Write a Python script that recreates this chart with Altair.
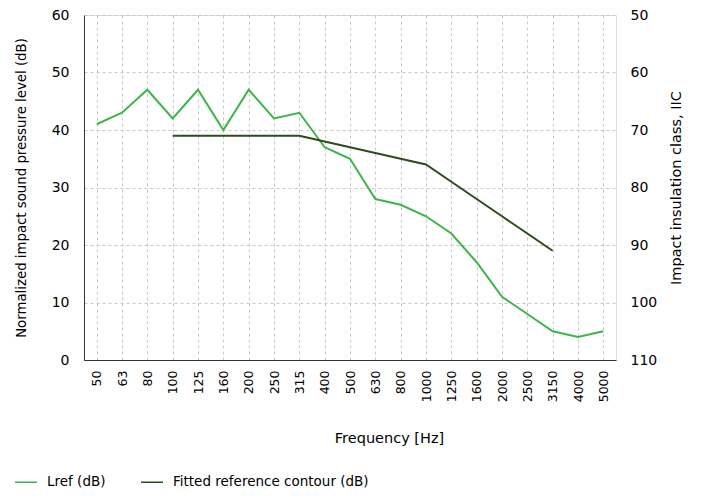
import altair as alt
import pandas as pd

freqs = ["50", "63", "80", "100", "125", "160", "200", "250", "315", "400",
         "500", "630", "800", "1000", "1250", "1600", "2000", "2500", "3150",
         "4000", "5000"]
lref = [41, 43, 47, 42, 47, 40, 47, 42, 43, 37, 35, 28, 27, 25, 22, 17, 11, 8, 5, 4, 5]
contour_freqs = ["100", "125", "160", "200", "250", "315", "400", "500", "630",
                 "800", "1000", "1250", "1600", "2000", "2500", "3150"]
contour = [39, 39, 39, 39, 39, 39, 38, 37, 36, 35, 34, 31, 28, 25, 22, 19]

s1 = "Lref (dB)"
s2 = "Fitted reference contour (dB)"
rows = [{"freq": f, "value": v, "series": s1} for f, v in zip(freqs, lref)]
rows += [{"freq": f, "value": v, "series": s2} for f, v in zip(contour_freqs, contour)]
df = pd.DataFrame(rows)

FONT = "DejaVu Sans"
TXT = "#333333"
GRID = "#c8c8c8"
W, H = 532, 345

x_enc = alt.X("freq:N", sort=freqs, scale=alt.Scale(domain=freqs, paddingInner=0, paddingOuter=0),
              axis=alt.Axis(title="Frequency [Hz]", labelAngle=-90, grid=True, gridDash=[3, 3],
                            gridColor=GRID, ticks=False, labelPadding=10, domainColor=TXT,
                            labelFont=FONT, titleFont=FONT,
                            labelFontSize=12.5, titleFontSize=14.5,
                            titleX=305, titleY=78, titleBaseline="middle",
                            titleFontWeight="normal"))

lines = alt.Chart(df).mark_line(strokeWidth=2).encode(
    x=x_enc,
    y=alt.Y("value:Q", scale=alt.Scale(domain=[0, 60], nice=False),
            axis=alt.Axis(title="Normalized impact sound pressure level (dB)", values=[0, 10, 20, 30, 40, 50, 60],
                          grid=True, gridDash=[3, 3], gridColor=GRID, ticks=False,
                          labelFont=FONT, titleFont=FONT,
                          labelPadding=15, domainColor=TXT, labelFontSize=14, titleFontSize=13.3,
                          titleX=-63, titleY=H / 2, titleAngle=270, titleBaseline="middle",
                          titleAlign="center", titleFontWeight="normal")),
    color=alt.Color("series:N", sort=[s1, s2],
                    scale=alt.Scale(domain=[s1, s2], range=["#3db54a", "#2e4a1e"]),
                    legend=alt.Legend(title=None, orient="none", direction="horizontal",
                                      legendX=-70, legendY=455, symbolType="stroke",
                                      symbolSize=484, symbolStrokeWidth=1.5, labelFontSize=13.5,
                                      labelFont=FONT,
                                      columnPadding=32, labelOffset=9, labelLimit=400)),
)

right = alt.Chart(df).transform_filter(
    alt.datum.series == s1
).transform_calculate(
    iic="110 - datum.value"
).mark_line(opacity=0).encode(
    x=alt.X("freq:N", sort=freqs),
    y=alt.Y("iic:Q", scale=alt.Scale(domain=[50, 110], reverse=True, nice=False),
            axis=alt.Axis(title="Impact insulation class, IIC", orient="right",
                          values=[50, 60, 70, 80, 90, 100, 110], grid=False, ticks=False,
                          labelFont=FONT, titleFont=FONT,
                          domain=False, labelPadding=14, labelFontSize=14, titleFontSize=14.5,
                          titleX=60, titleY=H / 2, titleAngle=270, titleBaseline="middle",
                          titleAlign="center", titleFontWeight="normal")),
)

chart = alt.layer(lines, right).resolve_scale(y="independent").properties(
    width=W, height=H,
    autosize=alt.AutoSizeParams(type="none"),
    padding={"left": 76, "top": 7, "right": 80, "bottom": 131}
).configure_view(
    stroke=GRID, strokeDash=[3, 3]
).configure(background="white", font=FONT)

chart.save("out.html", embed_options={"renderer": "svg", "actions": False})
